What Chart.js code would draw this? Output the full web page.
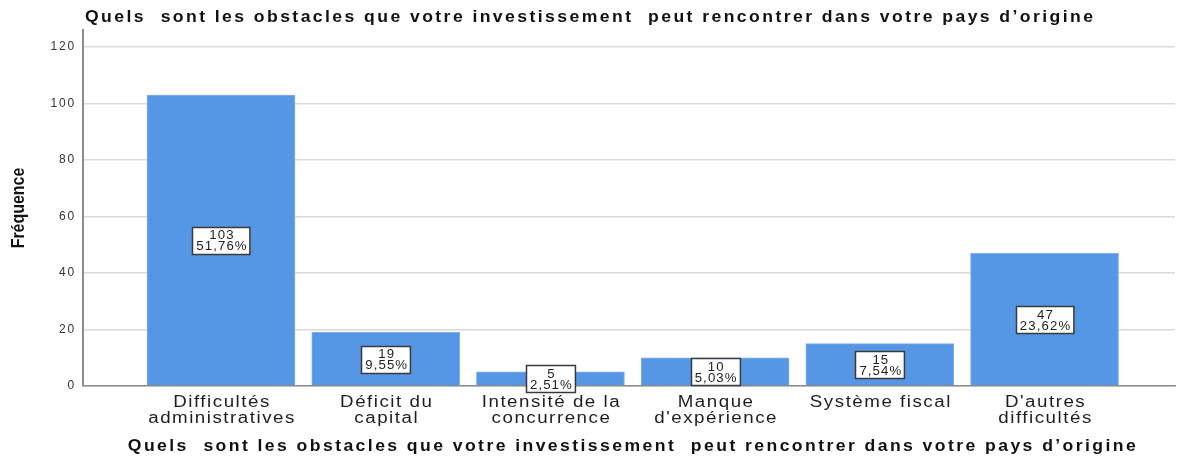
<!DOCTYPE html>
<html lang="fr">
<head>
<meta charset="utf-8">
<title>Obstacles à l'investissement</title>
<script src="https://cdn.jsdelivr.net/npm/chart.js@4.4.1/dist/chart.umd.min.js"></script>
<style>
    html, body { margin: 0; padding: 0; background: #ffffff; }
    #wrap { width: 1177px; height: 459px; }
</style>
</head>
<body>
<div id="wrap"><canvas id="obstaclesChart" width="1177" height="459"></canvas></div>
<script>
// --- Données ---
const categories = [
    ['Difficultés', 'administratives'],
    ['Déficit du', 'capital'],
    ['Intensité de la', 'concurrence'],
    ['Manque', "d'expérience"],
    ['Système fiscal'],
    ["D'autres", 'difficultés']
];
const frequencies = [103, 19, 5, 10, 15, 47];
const yTicks = [0, 20, 40, 60, 80, 100, 120];

const chartTitle = 'Quels  sont les obstacles que votre investissement  peut rencontrer dans votre pays d\u2019origine';
const yTitle = 'Fréquence';

const FONT = "'Liberation Sans', Arial, sans-serif";
const colors = {
    bar: '#5596e5',
    barEdge: '#7fb0ee',
    grid: '#dadada',
    axis: '#8c8c8c',
    text: '#1e1e1e'
};

const total = frequencies.reduce((a, b) => a + b, 0);
const pctLabel = v => (v / total * 100).toFixed(2).replace('.', ',') + '%';

// bars sit on a linear axis (1..6) so the plot keeps SPSS-like side margins
const barPoints = frequencies.map((v, i) => ({ x: i + 1, y: v }));

// SPSS output text is wide: stretch horizontally + a bit of letter spacing
function wideText(ctx, text, x, y, align, sx, spacing) {
    ctx.save();
    ctx.translate(x, y);
    ctx.scale(sx, 1);
    ctx.letterSpacing = spacing + 'px';
    ctx.textAlign = align;
    ctx.fillText(text, 0, 0);
    ctx.restore();
}

const spacingPlugin = {
    id: 'spacing',
    beforeDraw(chart) {
        chart.ctx.letterSpacing = '1.8px';
    }
};

// white boxes with count + percent in the middle of each bar
const valueBoxes = {
    id: 'valueBoxes',
    afterDatasetsDraw(chart) {
        const ctx = chart.ctx;
        const yScale = chart.scales.y;
        const meta = chart.getDatasetMeta(0);
        const sx = 1.1;
        ctx.save();
        ctx.font = '12px ' + FONT;
        ctx.letterSpacing = '1px';
        ctx.textBaseline = 'alphabetic';
        meta.data.forEach((bar, i) => {
            const v = frequencies[i];
            const cy = yScale.getPixelForValue(v / 2);
            const l1 = String(v);
            const l2 = pctLabel(v);
            const w = Math.max(ctx.measureText(l1).width, ctx.measureText(l2).width) * sx + 6;
            const h = 27;
            const x0 = Math.round(bar.x - w / 2) + 0.5;
            const y0 = Math.round(cy - h / 2) + 0.5;
            ctx.fillStyle = '#ffffff';
            ctx.fillRect(x0, y0, w, h);
            ctx.strokeStyle = '#3a3a3a';
            ctx.lineWidth = 1.5;
            ctx.strokeRect(x0, y0, w, h);
            ctx.fillStyle = colors.text;
            wideText(ctx, l1, bar.x + 1, cy - 1, 'center', sx, 1);
            wideText(ctx, l2, bar.x + 1, cy + 10, 'center', sx, 1);
        });
        ctx.restore();
    }
};

// category labels, titles and rotated y title
const labelsAndTitles = {
    id: 'labelsAndTitles',
    afterDraw(chart) {
        const ctx = chart.ctx;
        const xScale = chart.scales.x;
        ctx.save();
        ctx.textBaseline = 'alphabetic';

        ctx.fillStyle = colors.text;
        ctx.font = '16px ' + FONT;
        categories.forEach((lines, i) => {
            const cx = xScale.getPixelForValue(i + 1);
            lines.forEach((line, k) => {
                wideText(ctx, line, cx + 1, 407 + k * 16, 'center', 1.17, 1.3);
            });
        });

        ctx.fillStyle = '#111111';
        ctx.font = 'bold 16px ' + FONT;
        wideText(ctx, chartTitle, 85, 22, 'left', 1.1, 2.2);
        wideText(ctx, chartTitle, 633, 451, 'center', 1.1, 2.2);

        ctx.translate(24, 208);
        ctx.rotate(-Math.PI / 2);
        ctx.font = 'bold 19px ' + FONT;
        wideText(ctx, yTitle, 0, 0, 'center', 0.84, 0);
        ctx.restore();
    }
};

const ctx = document.getElementById('obstaclesChart').getContext('2d');
new Chart(ctx, {
    type: 'bar',
    data: {
        datasets: [{
            label: yTitle,
            data: barPoints,
            backgroundColor: colors.bar,
            borderColor: colors.barEdge,
            borderWidth: 1,
            barThickness: 148
        }]
    },
    options: {
        responsive: false,
        animation: false,
        devicePixelRatio: 1,
        layout: { padding: { top: 30, right: 2, left: 0, bottom: 0 } },
        plugins: {
            legend: { display: false },
            tooltip: { enabled: false }
        },
        scales: {
            x: {
                type: 'linear',
                offset: false,
                min: 0.162,
                max: 6.792,
                afterFit(scale) { scale.height = 73; },
                grid: { display: false, drawTicks: false, offset: false },
                border: { display: true, color: colors.axis, width: 1.5 },
                ticks: { display: false, stepSize: 1, includeBounds: false }
            },
            y: {
                min: 0,
                max: 126,
                afterFit(scale) { scale.width = 83; },
                afterBuildTicks(scale) { scale.ticks = yTicks.map(v => ({ value: v })); },
                grid: { color: colors.grid, lineWidth: 1.5, drawTicks: false },
                border: { display: true, color: colors.axis, width: 2 },
                ticks: {
                    padding: 7,
                    color: '#333333',
                    font: { family: FONT, size: 12 }
                }
            }
        }
    },
    plugins: [spacingPlugin, valueBoxes, labelsAndTitles]
});
</script>
</body>
</html>
